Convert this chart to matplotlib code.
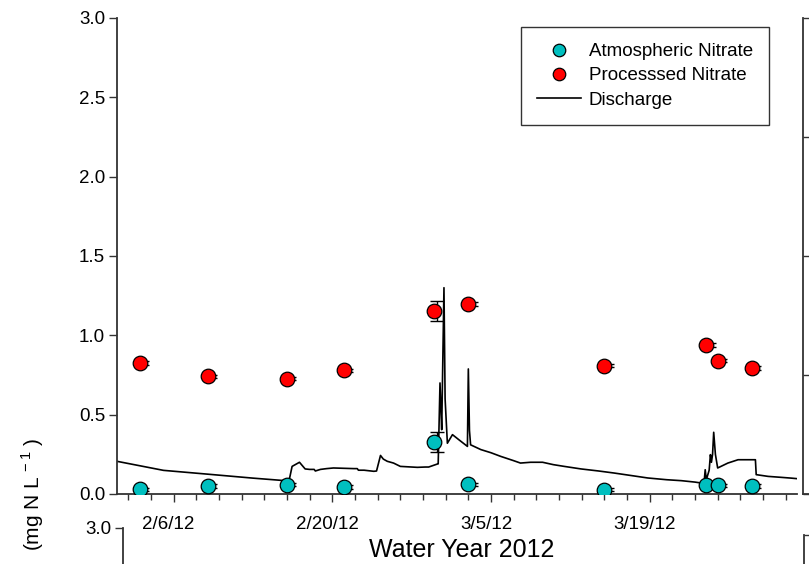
import numpy as np
import pandas as pd
import matplotlib
matplotlib.use("Agg")
import matplotlib.pyplot as plt
import matplotlib.dates as mdates
from matplotlib.ticker import FixedLocator, FuncFormatter
from matplotlib.lines import Line2D
from matplotlib.transforms import ScaledTranslation

plt.rcParams['font.family'] = ['Liberation Sans', 'DejaVu Sans']
plt.rcParams['mathtext.fontset'] = 'custom'
plt.rcParams['mathtext.rm'] = 'Liberation Sans'

# nitrate samples, water year 2012
sample_dates = ['2012-02-03', '2012-02-09', '2012-02-16', '2012-02-21', '2012-02-29',
                '2012-03-03', '2012-03-15', '2012-03-24', '2012-03-25', '2012-03-28']
atm_nitrate = [0.03, 0.05, 0.058, 0.044, 0.325, 0.062, 0.027, 0.058, 0.054, 0.05]
atm_err = [0.01, 0.01, 0.01, 0.01, 0.063, 0.01, 0.008, 0.01, 0.01, 0.01]
proc_nitrate = [0.826, 0.742, 0.727, 0.78, 1.153, 1.198, 0.809, 0.939, 0.84, 0.794]
proc_err = [0.01, 0.01, 0.01, 0.01, 0.063, 0.01, 0.008, 0.01, 0.01, 0.01]

# discharge trace (scaled to the nitrate axis), days after 2012-02-01
q_days = [0.0, 4.1, 8.0, 12.0, 14.85, 15.2, 15.45, 16.1, 16.6, 17.0, 17.4, 17.5, 17.95,
          18.5, 19.1, 20.0, 20.9, 21.2, 21.3, 21.8, 22.66, 22.9, 23.25, 23.5, 23.85,
          24.4, 25.0, 26.5, 27.2, 27.5, 28.27, 28.34, 28.5, 28.6, 28.65, 28.85, 28.95,
          29.15, 29.6, 30.2, 30.92, 31.0, 31.1, 31.2, 31.8, 32.1, 33.0, 33.86, 35.0,
          35.6, 36.5, 37.55, 38.5, 39.46, 40.94, 42.5, 43.88, 45.5, 46.83, 48.5, 49.8,
          51.0, 51.57, 51.8, 51.9, 52.0, 52.25, 52.36, 52.45, 52.55, 52.65, 52.8, 53.0,
          53.9, 54.8, 56.33, 56.4, 57.45, 58.6, 59.5, 60.1]
q_scaled = [0.206, 0.149, 0.125, 0.1, 0.084, 0.09, 0.174, 0.2, 0.158, 0.155, 0.155,
            0.145, 0.155, 0.16, 0.164, 0.162, 0.16, 0.16, 0.15, 0.15, 0.143, 0.145,
            0.243, 0.22, 0.206, 0.195, 0.174, 0.168, 0.17, 0.17, 0.189, 0.19, 0.70, 0.5,
            0.405, 1.30, 0.6, 0.32, 0.374, 0.34, 0.30, 0.788, 0.4, 0.31, 0.29, 0.28,
            0.26, 0.237, 0.21, 0.195, 0.2, 0.2, 0.185, 0.174, 0.158, 0.145, 0.132, 0.115,
            0.101, 0.09, 0.084, 0.075, 0.069, 0.07, 0.153, 0.09, 0.15, 0.248, 0.2, 0.25,
            0.389, 0.25, 0.164, 0.195, 0.216, 0.216, 0.122, 0.111, 0.105, 0.1, 0.096]

day0 = pd.Timestamp('2012-02-01')
t_samples = pd.to_datetime(sample_dates)
t_q = day0 + pd.to_timedelta(q_days, unit='D')
# error bars sit slightly right of the sample markers
t_err = t_samples + pd.Timedelta(hours=5)

fig = plt.figure(figsize=(8.09, 5.64), dpi=100)
W, H = 809.0, 564.0
spine_col = '#333333'


def edge_panel(rect, ylim, ticks, labels, direction, show_bottom):
    # partial neighbour panel that runs off the figure edge
    a = fig.add_axes(rect)
    a.patch.set_visible(False)
    a.set_ylim(*ylim)
    a.set_yticks(ticks)
    a.set_yticklabels(labels)
    a.set_xticks([])
    a.tick_params(axis='y', direction=direction, length=7 if direction == 'in' else 5.5,
                  width=1.0, colors=spine_col, labelcolor='black', labelsize=13.5,
                  pad=3)
    a.spines['top'].set_visible(False)
    a.spines['right'].set_visible(False)
    a.spines['bottom'].set_visible(show_bottom)
    for s in ['left', 'bottom']:
        a.spines[s].set_color(spine_col)
        a.spines[s].set_linewidth(1.3)
    return a


edge_panel([803 / W, 1 - 494 / H, 300 / W, 476 / H], (0, 4), range(5), [], 'in', True)
edge_panel([804 / W, 1 - 1011 / H, 300 / W, 476 / H], (0, 4), range(5), [], 'in', False)
edge_panel([123 / W, 1 - 1004 / H, 674 / W, 476 / H], (0, 3.0), [3.0], ['3.0'], 'out',
           False)

ax = fig.add_axes([117 / W, 1 - 494 / H, 680 / W, 476 / H])
ax.patch.set_visible(False)

ax.plot(t_q, q_scaled, color='black', lw=1.2, zorder=2)
ax.errorbar(t_err, proc_nitrate, yerr=proc_err, fmt='none', ecolor='black',
            elinewidth=1.0, capsize=5, capthick=1.0, zorder=3)
ax.errorbar(t_err, atm_nitrate, yerr=atm_err, fmt='none', ecolor='black',
            elinewidth=1.0, capsize=5, capthick=1.0, zorder=3)
ax.plot(t_samples, atm_nitrate, 'o', ms=10.5, mfc='#00BFBF', mec='black', mew=0.9,
        zorder=4)
ax.plot(t_samples, proc_nitrate, 'o', ms=10.5, mfc='#FF0000', mec='black', mew=0.9,
        zorder=4)

ax.set_xlim(pd.Timestamp('2012-02-01'), pd.Timestamp('2012-04-01'))
ax.set_ylim(0, 3.0)
ax.set_yticks(np.arange(0, 3.01, 0.5))
ax.yaxis.set_major_formatter(FuncFormatter(lambda v, p: f"{v:.1f}"))

major = mdates.date2num(pd.date_range('2012-02-06', '2012-03-19', freq='14D'))
minor = mdates.date2num(pd.date_range('2012-02-02', '2012-03-31', freq='2D'))
ax.xaxis.set_major_locator(FixedLocator(major))
ax.xaxis.set_minor_locator(FixedLocator(minor))


def date_label(v, pos):
    d = mdates.num2date(v)
    return f"{d.month}/{d.day}/{d.strftime('%y')}"


ax.xaxis.set_major_formatter(FuncFormatter(date_label))

for s in ['top', 'right']:
    ax.spines[s].set_visible(False)
for s in ['left', 'bottom']:
    ax.spines[s].set_color(spine_col)
    ax.spines[s].set_linewidth(1.3)

ax.tick_params(axis='y', direction='out', length=5.5, width=1.0, colors=spine_col,
               labelcolor='black', labelsize=13.5, pad=3)
ax.tick_params(axis='x', which='major', direction='out', length=5.5, width=1.0,
               colors=spine_col, labelcolor='black', labelsize=13.5, pad=10)
ax.tick_params(axis='x', which='minor', direction='out', length=4, width=1.0,
               colors=spine_col)
shift = ScaledTranslation(-5 / 100, 0, fig.dpi_scale_trans)
for lab in ax.get_xticklabels():
    lab.set_transform(lab.get_transform() + shift)

fig.text(462 / W, 1 - 550 / H, 'Water Year 2012', ha='center', va='center',
         fontsize=18)
fig.text(33 / W, 1 - 494 / H, '(mg N L$^{\\,-1}$ )', rotation=90, ha='center',
         va='center', fontsize=15)

handles = [
    Line2D([], [], ls='none', marker='o', ms=9, mfc='#00BFBF', mec='black', mew=0.9),
    Line2D([], [], ls='none', marker='o', ms=9, mfc='#FF0000', mec='black', mew=0.9),
    Line2D([], [], color='black', lw=1.2),
]
leg = ax.legend(handles, ['Atmospheric Nitrate', 'Processsed Nitrate', 'Discharge'],
                loc='upper right', bbox_to_anchor=(769 / W, 1 - 27 / H),
                bbox_transform=fig.transFigure, borderaxespad=0, fontsize=13.5,
                frameon=True, fancybox=False, edgecolor='black', handlelength=2.3,
                handletextpad=0.45, labelspacing=0.38, borderpad=0.85)
leg.get_frame().set_linewidth(1.0)

fig.savefig('out.png', dpi=100)
